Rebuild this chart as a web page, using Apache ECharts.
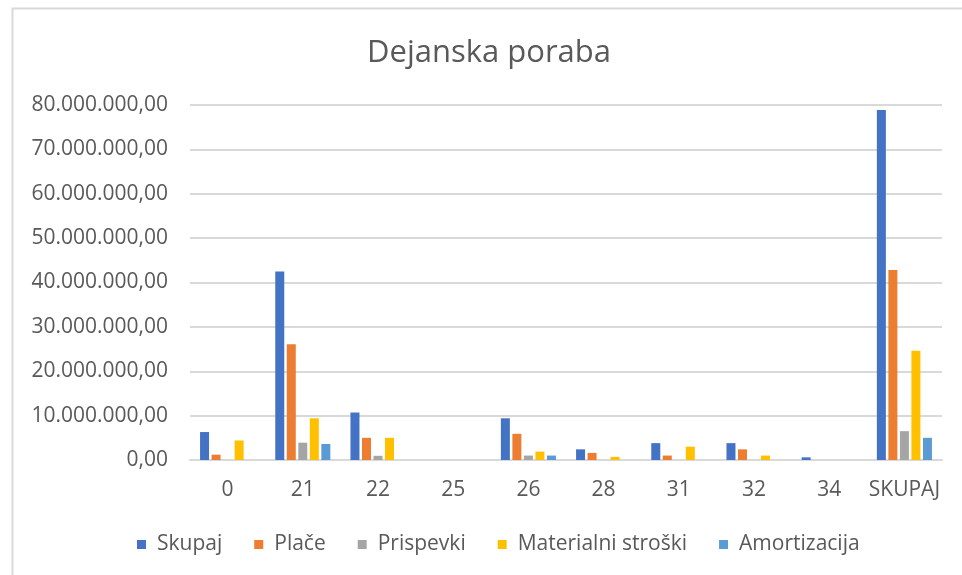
<!DOCTYPE html>
<html>
<head>
<meta charset="utf-8">
<script src="https://cdn.jsdelivr.net/npm/echarts@6/dist/echarts.min.js"></script>
<style>
  html, body { margin: 0; padding: 0; background: #fff; }
  #main { width: 962px; height: 575px; }
</style>
</head>
<body>
<div id="main"></div>
<script>
// kategorije in vrednosti (odčitano s slike)
var categories = ['0', '21', '22', '25', '26', '28', '31', '32', '34', 'SKUPAJ'];
var seriesNames = ['Skupaj', 'Plače', 'Prispevki', 'Materialni stroški', 'Amortizacija'];
var skupaj      = [6300000, 42500000, 10700000, 0, 9400000, 2400000, 3800000, 3800000, 600000, 78900000];
var place       = [1200000, 26100000, 5000000, 0, 5900000, 1600000, 1000000, 2400000, 0, 42800000];
var prispevki   = [0, 3900000, 950000, 0, 1000000, 0, 0, 0, 0, 6500000];
var materialni  = [4400000, 9400000, 5000000, 0, 1900000, 700000, 3000000, 1000000, 0, 24600000];
var amortizacija = [0, 3600000, 0, 0, 1000000, 0, 0, 0, 0, 5000000];
var colors = ['#4472C4', '#ED7D31', '#A5A5A5', '#FFC000', '#5B9BD5'];

var textColor = '#595959';
var fontName = 'Open Sans';

// 80000000 -> 80.000.000,00
function fmt(v) {
    var s = Math.round(v).toString().replace(/\B(?=(\d{3})+(?!\d))/g, '.');
    return s + ',00';
}

var allData = [skupaj, place, prispevki, materialni, amortizacija];
var series = [];
for (var i = 0; i < seriesNames.length; i++) {
    series.push({
        name: seriesNames[i],
        type: 'bar',
        data: allData[i],
        barWidth: 9,
        barGap: '28%',
        itemStyle: { color: colors[i] }
    });
}

var myChart = echarts.init(document.getElementById('main'));
var option = {
    animation: false,
    color: colors,
    graphic: [{
        type: 'rect',
        left: 10,
        top: 6,
        shape: { width: 1000, height: 620 },
        style: { fill: 'none', stroke: '#d9d9d9', lineWidth: 2 },
        silent: true
    }],
    title: {
        text: 'Dejanska poraba',
        left: 362,
        top: 33,
        textStyle: { fontFamily: fontName, fontSize: 31, fontWeight: 'normal', color: textColor }
    },
    legend: {
        data: seriesNames,
        left: 132,
        top: 529,
        icon: 'rect',
        itemWidth: 9,
        itemHeight: 9,
        itemGap: 32,
        textStyle: { fontFamily: fontName, fontSize: 21, color: textColor, padding: [0, 0, 0, 6] }
    },
    grid: {
        left: 190,
        right: 20,
        top: 105,
        bottom: 115
    },
    xAxis: {
        type: 'category',
        data: categories,
        axisLine: { lineStyle: { color: '#d9d9d9', width: 2 } },
        axisTick: { show: false },
        axisLabel: { interval: 0, fontFamily: fontName, fontSize: 21, color: textColor, margin: 20 }
    },
    yAxis: {
        type: 'value',
        min: 0,
        max: 80000000,
        interval: 10000000,
        axisLine: { show: false },
        axisTick: { show: false },
        splitLine: { lineStyle: { color: '#d9d9d9', width: 2 } },
        axisLabel: {
            fontFamily: fontName, fontSize: 21, color: textColor, margin: 22,
            formatter: fmt
        }
    },
    series: series
};
myChart.setOption(option);
</script>
</body>
</html>
